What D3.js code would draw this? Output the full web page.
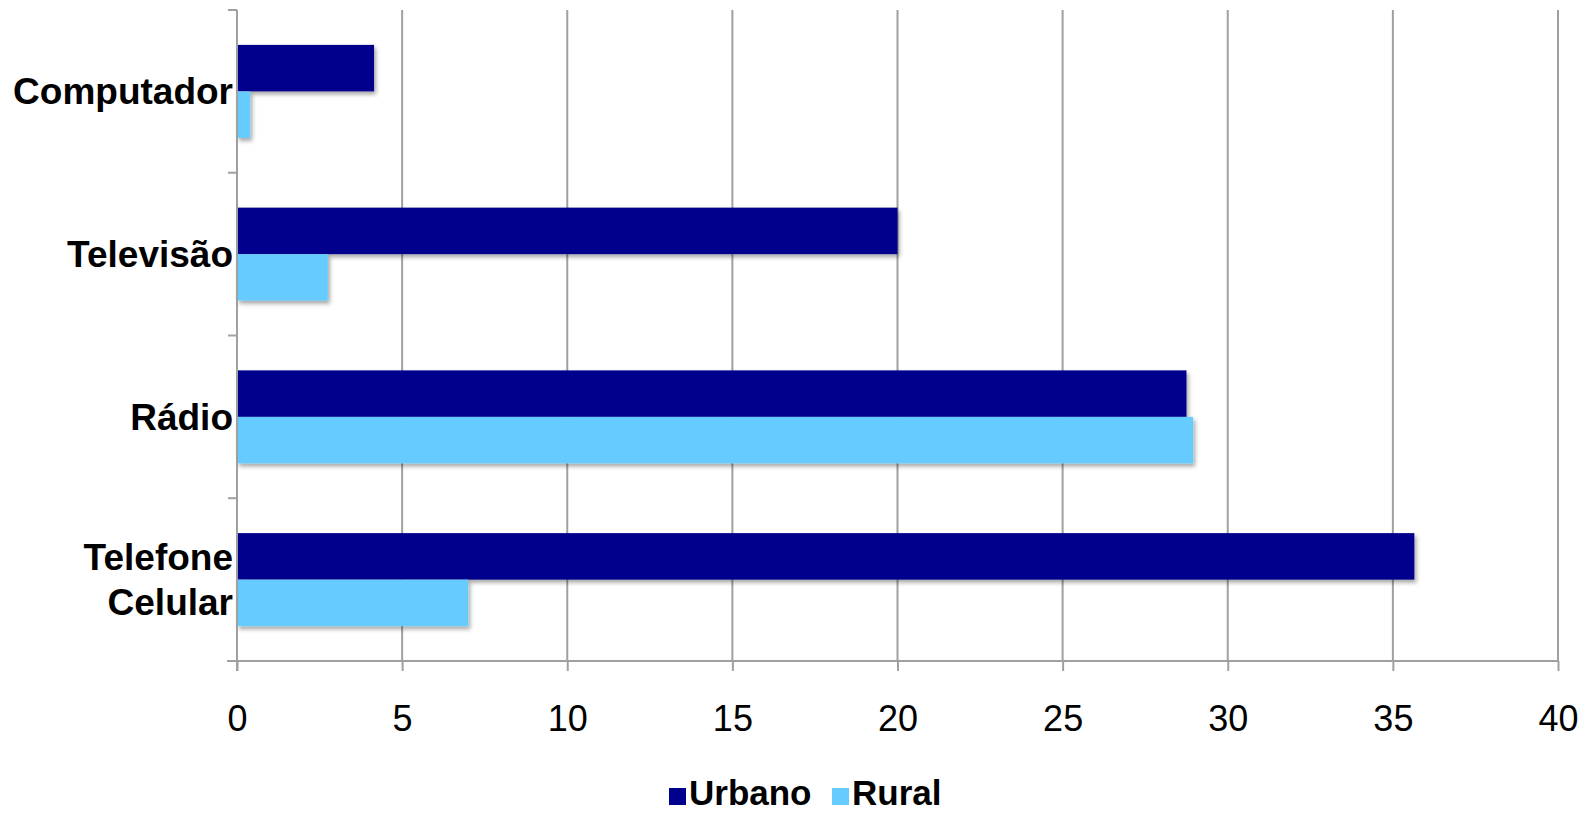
<!DOCTYPE html>
<html>
<head>
<meta charset="utf-8">
<script src="https://cdn.jsdelivr.net/npm/d3@7"></script>
<style>
  html, body { margin: 0; padding: 0; background: #ffffff; }
  svg { display: block; font-family: "Liberation Sans", Arial, Helvetica, sans-serif; }
</style>
</head>
<body>
<svg id="chart" width="1590" height="813"></svg>
<script>
// Categories, top to bottom; multi-line labels split on "\n"
const categories = ["Computador", "Televisão", "Rádio", "Telefone\nCelular"];
const seriesNames = ["Urbano", "Rural"];
const urbano = [4.15, 20.0, 28.75, 35.65];
const rural = [0.4, 2.75, 28.95, 7.0];
const xTicks = [0, 5, 10, 15, 20, 25, 30, 35, 40];
const colors = ["#00008c", "#66ccff"];

const svg = d3.select("#chart");
const W = 1590, H = 813;
const margin = { left: 237, right: 32, top: 10, bottom: 152 };
const plotRight = W - margin.right;
const plotBottom = H - margin.bottom;

const x = d3.scaleLinear().domain([0, 40]).range([margin.left, plotRight]);
const y = d3.scaleBand().domain(categories).range([margin.top, plotBottom]).padding(0);

// Bars fill step / 1.75 of each category (75% gap), split between the two series
const groupH = y.bandwidth() / 1.75;
const inner = d3.scaleBand().domain(seriesNames).range([0, groupH]).padding(0);
const groupOffset = (y.bandwidth() - groupH) / 2;

const defs = svg.append("defs");
const shadow = defs.append("filter").attr("id", "barShadow")
  .attr("x", "-5%").attr("y", "-20%").attr("width", "115%").attr("height", "150%");
shadow.append("feDropShadow")
  .attr("dx", 2).attr("dy", 3).attr("stdDeviation", 2.2)
  .attr("flood-color", "#000").attr("flood-opacity", 0.35);

const gridColor = "#a0a0a0";

// Vertical gridlines
svg.append("g").selectAll("line").data(xTicks.filter(d => d > 0)).join("line")
  .attr("x1", d => x(d)).attr("x2", d => x(d))
  .attr("y1", margin.top).attr("y2", plotBottom)
  .attr("stroke", gridColor).attr("stroke-width", 2);

// Bars
const series = [urbano, rural];
const barsG = svg.append("g");
seriesNames.forEach((name, si) => {
  barsG.append("g").attr("filter", "url(#barShadow)")
    .selectAll("rect").data(categories).join("rect")
    .attr("x", x(0))
    .attr("y", c => y(c) + groupOffset + inner(name))
    .attr("width", (c, i) => x(series[si][i]) - x(0))
    .attr("height", inner.bandwidth())
    .attr("fill", colors[si]);
});

// X axis
const xAxis = d3.axisBottom(x).tickValues(xTicks).tickSize(10).tickPadding(34).tickFormat(d3.format("d"));
const xg = svg.append("g").attr("transform", `translate(0,${plotBottom})`).call(xAxis);
xg.select(".domain").attr("stroke", gridColor).attr("stroke-width", 2)
  .attr("d", `M${x(0) - 10},0H${x(40)}`);
xg.selectAll(".tick line").attr("stroke", gridColor).attr("stroke-width", 2);
xg.selectAll(".tick text").attr("fill", "#000").attr("font-size", 36)
  .attr("font-family", "\"Liberation Sans\", Arial, sans-serif");

// Y axis: line with ticks at category boundaries
const yg = svg.append("g");
yg.append("line").attr("x1", x(0)).attr("x2", x(0))
  .attr("y1", margin.top).attr("y2", plotBottom + 10)
  .attr("stroke", gridColor).attr("stroke-width", 2);
const bounds = categories.map(c => y(c)).concat([y(categories[categories.length - 1]) + y.bandwidth()]);
yg.selectAll("line.tk").data(bounds).join("line").attr("class", "tk")
  .attr("x1", x(0) - 9).attr("x2", x(0))
  .attr("y1", d => d).attr("y2", d => d)
  .attr("stroke", gridColor).attr("stroke-width", 2);

// Category labels
const lineGap = 45;
categories.forEach(c => {
  const lines = c.split("\n");
  const cy = y(c) + y.bandwidth() / 2;
  const t = svg.append("text")
    .attr("text-anchor", "end")
    .attr("font-size", 37).attr("font-weight", "bold").attr("fill", "#000");
  lines.forEach((ln, i) => {
    const off = (i - (lines.length - 1) / 2) * lineGap;
    t.append("tspan").attr("x", x(0) - 4).attr("y", cy + off + 13).text(ln);
  });
});

// Legend
const legend = svg.append("g").attr("transform", "translate(669,788)");
const legendItems = [{ name: seriesNames[0], dx: 0 }, { name: seriesNames[1], dx: 163 }];
legendItems.forEach((it, i) => {
  const g = legend.append("g").attr("transform", `translate(${it.dx},0)`);
  g.append("rect").attr("width", 17).attr("height", 17).attr("fill", colors[i]);
  g.append("text").attr("x", 20).attr("y", 17)
    .attr("font-size", 35).attr("font-weight", "bold").attr("fill", "#000")
    .text(it.name);
});
</script>
</body>
</html>
